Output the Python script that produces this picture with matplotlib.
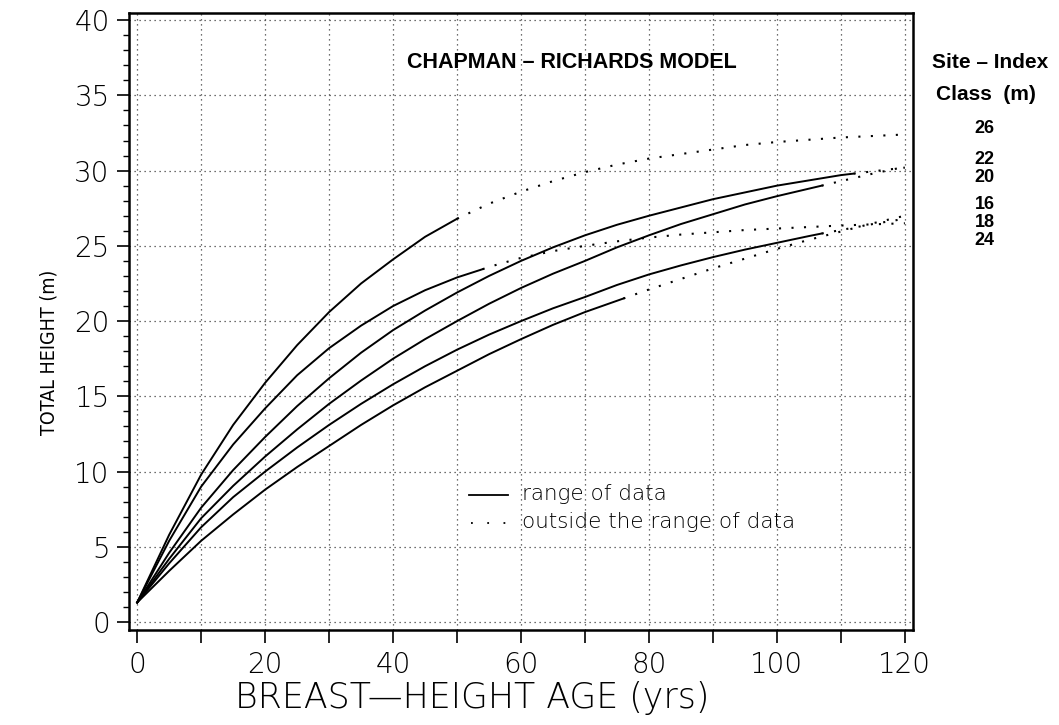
import numpy as np
import matplotlib
matplotlib.use('Agg')
import matplotlib.pyplot as plt
from matplotlib.ticker import MultipleLocator

# --------------------------------------------------------------------------- #
# Data
# --------------------------------------------------------------------------- #
age = [0, 5, 10, 15, 20, 25, 30, 35, 40, 45, 50, 55, 60,
       65, 70, 75, 80, 85, 90, 95, 100, 105, 110, 115, 120]

h26 = [1.3, 5.8, 9.8, 13.1, 15.9, 18.4, 20.6, 22.5, 24.1, 25.6, 26.8, 27.8, 28.6,
       29.3, 29.9, 30.4, 30.8, 31.1, 31.4, 31.7, 31.9, 32.05, 32.2, 32.3, 32.4]
h24 = [1.3, 5.4, 9.0, 11.8, 14.2, 16.4, 18.2, 19.7, 21.0, 22.05, 22.9, 23.6, 24.2,
       24.65, 25.0, 25.3, 25.55, 25.75, 25.9, 26.05, 26.15, 26.25, 26.35, 26.43, 26.5]
h22 = [1.3, 4.6, 7.6, 10.1, 12.3, 14.35, 16.2, 17.9, 19.4, 20.7, 21.9, 23.0, 24.0,
       24.9, 25.7, 26.4, 27.0, 27.55, 28.1, 28.55, 29.0, 29.35, 29.7, 29.95, 30.2]
h20 = [1.3, 4.2, 6.9, 9.05, 11.0, 12.8, 14.5, 16.05, 17.5, 18.8, 20.0, 21.15, 22.2,
       23.15, 24.0, 24.9, 25.7, 26.45, 27.1, 27.75, 28.3, 28.8, 29.3, 29.8, 30.25]
h18 = [1.3, 3.9, 6.3, 8.3, 10.0, 11.6, 13.1, 14.5, 15.8, 17.0, 18.1, 19.1, 20.0,
       20.85, 21.6, 22.4, 23.1, 23.7, 24.25, 24.75, 25.2, 25.65, 26.05, 26.45, 26.8]
h16 = [1.3, 3.4, 5.4, 7.15, 8.8, 10.3, 11.7, 13.1, 14.4, 15.6, 16.7, 17.8, 18.8,
       19.75, 20.6, 21.35, 22.1, 22.8, 23.5, 24.15, 24.8, 25.4, 25.95, 26.5, 27.0]

site_index = [26, 24, 22, 20, 18, 16]
heights = [h26, h24, h22, h20, h18, h16]

# last age covered by the data, and the height there
data_end_age = [50, 54, 112, 107, 107, 76]
data_end_height = [26.8, 23.45, 29.8, 29.0, 25.82, 21.5]

# where the site-index labels sit on the right margin
label_height = [32.8, 25.35, 30.75, 29.55, 26.55, 27.75]

# --------------------------------------------------------------------------- #
# Plot
# --------------------------------------------------------------------------- #
fig = plt.figure(figsize=(10.59, 7.25), dpi=100)
ax = fig.add_axes([0.122, 0.131, 0.740, 0.851])

dots = (0, (1, 5))
for h, end, hend in zip(heights, data_end_age, data_end_height):
  a = np.array(age, dtype=float)
  h = np.array(h)
  m = a < end
  ax.plot(np.append(a[m], end), np.append(h[m], hend), 'k-', lw=1.4)
  m = a > end
  ax.plot(np.insert(a[m], 0, end), np.insert(h[m], 0, hend),
          color='k', ls=dots, lw=1.5)

ax.set_xlim(-1.25, 121.25)
ax.set_ylim(-0.53, 40.47)

ax.xaxis.set_major_locator(MultipleLocator(20))
ax.xaxis.set_minor_locator(MultipleLocator(10))
ax.yaxis.set_major_locator(MultipleLocator(5))
ax.yaxis.set_minor_locator(MultipleLocator(1))
ax.tick_params(axis='x', which='both', direction='out', length=9, width=1.2)
ax.tick_params(axis='x', which='major', pad=6, labelsize=20)
ax.tick_params(axis='y', which='major', direction='out', length=9, width=1.2,
               pad=5, labelsize=20)
ax.tick_params(axis='y', which='minor', direction='out', length=4, width=1.0)
for lab in ax.get_xticklabels() + ax.get_yticklabels():
  lab.set_fontweight('light')

ax.grid(True, which='major', axis='y', color='0.25', ls=(0, (1, 3)), lw=0.9)
ax.grid(True, which='minor', axis='x', color='0.25', ls=(0, (1, 3)), lw=0.9)
ax.grid(True, which='major', axis='x', color='0.25', ls=(0, (1, 3)), lw=0.9)
for s in ax.spines.values():
  s.set_linewidth(1.8)

# legend drawn by hand
ax.plot([0.434, 0.483], [0.219, 0.219], 'k-', lw=1.3, transform=ax.transAxes)
ax.plot([0.436, 0.483], [0.173, 0.173], color='k', ls=(0, (1, 8)), lw=1.3,
        transform=ax.transAxes)
ax.text(0.501, 0.221, 'range of data', transform=ax.transAxes, va='center',
        fontsize=15.5, fontweight='light')
ax.text(0.501, 0.175, 'outside the range of data', transform=ax.transAxes,
        va='center', fontsize=15.5, fontweight='light')

fig.text(0.540, 0.914, 'CHAPMAN \u2013 RICHARDS MODEL', ha='center', va='center',
         fontsize=15.5, fontweight='bold', family='Liberation Sans')
fig.text(0.935, 0.914, 'Site \u2013 Index', ha='center', va='center',
         fontsize=15, fontweight='bold', family='Liberation Sans')
fig.text(0.931, 0.869, 'Class  (m)', ha='center', va='center',
         fontsize=15, fontweight='bold', family='Liberation Sans')
label_trans = ax.get_yaxis_transform().__class__(fig.transFigure, ax.transData)
for si, yl in zip(site_index, label_height):
  ax.text(0.930, yl, str(si), transform=label_trans, ha='center', va='center',
          fontsize=13, fontweight='bold', family='Liberation Sans')

fig.text(0.046, 0.514, 'TOTAL HEIGHT (m)', rotation=90, ha='center', va='center',
         fontsize=14, fontstretch='condensed')
fig.text(0.446, 0.037, 'BREAST\u2014HEIGHT AGE (yrs)', ha='center', va='center',
         fontsize=25, fontweight='light')

plt.savefig('out.png', dpi=100)
